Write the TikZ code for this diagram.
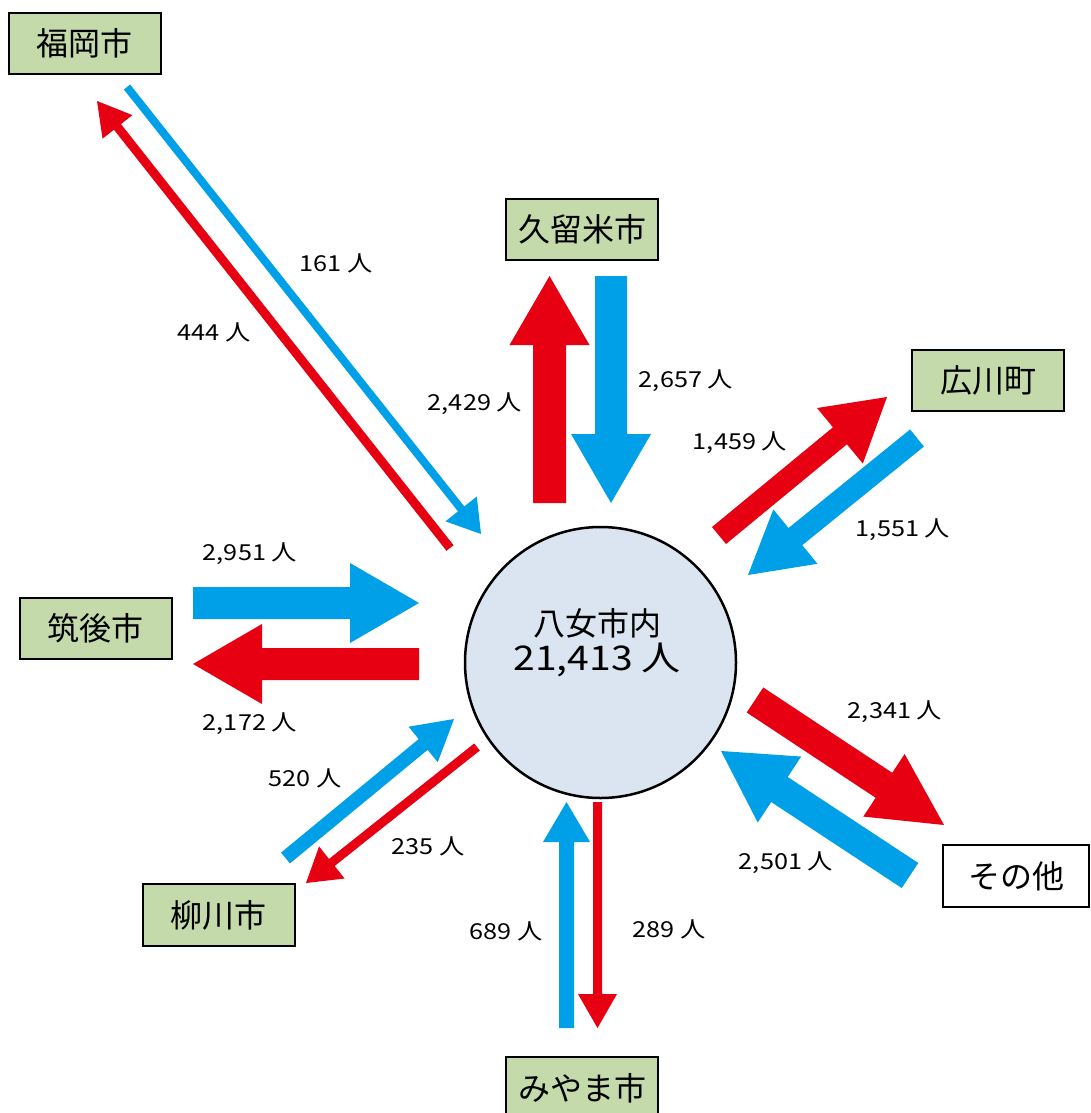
\documentclass[tikz,border=0pt]{standalone}
\usepackage{fontspec}
\setmainfont{Noto Sans CJK JP}
\newfontfamily\numfont[FakeStretch=1.15]{Noto Sans CJK JP}
\usetikzlibrary{calc}

\definecolor{flowred}{RGB}{230,0,18}
\definecolor{flowblue}{RGB}{0,160,233}
\definecolor{citygreen}{RGB}{196,218,171}
\definecolor{centerblue}{RGB}{219,229,241}

\tikzset{
  city/.style={draw=black, line width=2pt, fill=citygreen,
    minimum width=152pt, minimum height=61pt, inner sep=0pt,
    font=\fontsize{32}{36}\selectfont},
  cityother/.style={city, fill=white},
  count/.style={inner sep=0pt, font=\numfont\fontsize{22}{26}\selectfont},
  hub/.style={circle, draw=black, line width=2.5pt, fill=centerblue,
    minimum size=271pt, inner sep=0pt},
  hublabel/.style={align=center, inner sep=0pt, font=\fontsize{32}{35}\selectfont},
}

% block arrow: colour, tail, tip, half shaft width, half head width, head length
\newcommand{\flowarrow}[6]{%
  \coordinate (#2-base) at ($(#3)!#6!(#2)$);
  \fill[#1] ($(#2)!#4!90:(#3)$) -- ($(#2-base)!#4!90:(#3)$)
    -- ($(#2-base)!#5!90:(#3)$) -- (#3)
    -- ($(#2-base)!#5!-90:(#3)$) -- ($(#2-base)!#4!-90:(#3)$)
    -- ($(#2)!#4!-90:(#3)$) -- cycle;
}

\begin{document}
\begin{tikzpicture}[x=1pt, y=-1pt]
\useasboundingbox (0,0) rectangle (1091,1113);

% municipalities
\node[city] (fukuoka) at (84.5,43.5) {福岡市};
\node[city] (kurume) at (582,229) {久留米市};
\node[city] (hirokawa) at (988,380.5) {広川町};
\node[cityother, minimum width=146pt, minimum height=62pt] (other) at (1016,876) {その他};
\node[city, minimum height=62pt] (yanagawa) at (218.5,915) {柳川市};
\node[city, minimum height=62pt] (miyama) at (582,1088) {みやま市};
\node[city] (chikugo) at (95.5,628.5) {筑後市};

% Yame city itself
\node[hub] (yame) at (600.5,662.5) {};
\node[hublabel] (yameLabel) at (597,643)
  {八女市内\\{\numfont\fontsize{34}{35}\selectfont 21,413 人}};

% arrow end points
\coordinate (fukuokaOutTail) at (450,548);   \coordinate (fukuokaOutTip) at (97,101);
\coordinate (fukuokaInTail) at (127,87);     \coordinate (fukuokaInTip) at (481,534);
\coordinate (kurumeOutTail) at (549.5,503);  \coordinate (kurumeOutTip) at (549.5,276);
\coordinate (kurumeInTail) at (611,276);     \coordinate (kurumeInTip) at (611,503);
\coordinate (hirokawaOutTail) at (719,535.5);\coordinate (hirokawaOutTip) at (887,397);
\coordinate (hirokawaInTail) at (917,438);   \coordinate (hirokawaInTip) at (748,575);
\coordinate (otherOutTail) at (755,700);     \coordinate (otherOutTip) at (944,825);
\coordinate (otherInTail) at (910,875.5);    \coordinate (otherInTip) at (721,751);
\coordinate (chikugoInTail) at (193,603);    \coordinate (chikugoInTip) at (419,603);
\coordinate (chikugoOutTail) at (419,664);   \coordinate (chikugoOutTip) at (193,664);
\coordinate (yanagawaInTail) at (285.5,858); \coordinate (yanagawaInTip) at (454,719);
\coordinate (yanagawaOutTail) at (477,747);  \coordinate (yanagawaOutTip) at (306,883);
\coordinate (miyamaInTail) at (566.5,1028);  \coordinate (miyamaInTip) at (566.5,802);
\coordinate (miyamaOutTail) at (597.5,802);  \coordinate (miyamaOutTip) at (597.5,1028);

% outbound (red) and inbound (blue) flows
\flowarrow{flowred}{fukuokaOutTail}{fukuokaOutTip}{4.5pt}{19pt}{33pt}
\flowarrow{flowblue}{fukuokaInTail}{fukuokaInTip}{4pt}{20pt}{32pt}
\flowarrow{flowred}{kurumeOutTail}{kurumeOutTip}{16.5pt}{40pt}{69pt}
\flowarrow{flowblue}{kurumeInTail}{kurumeInTip}{16pt}{40pt}{69pt}
\flowarrow{flowred}{hirokawaOutTail}{hirokawaOutTip}{11pt}{36pt}{61pt}
\flowarrow{flowblue}{hirokawaInTail}{hirokawaInTip}{11pt}{35pt}{61pt}
\flowarrow{flowred}{otherOutTail}{otherOutTip}{15pt}{37.5pt}{72pt}
\flowarrow{flowblue}{otherInTail}{otherInTip}{15pt}{39.5pt}{70pt}
\flowarrow{flowblue}{chikugoInTail}{chikugoInTip}{16pt}{40pt}{69pt}
\flowarrow{flowred}{chikugoOutTail}{chikugoOutTip}{16pt}{40pt}{69pt}
\flowarrow{flowblue}{yanagawaInTail}{yanagawaInTip}{7pt}{23pt}{40pt}
\flowarrow{flowred}{yanagawaOutTail}{yanagawaOutTip}{4.5pt}{20.5pt}{33pt}
\flowarrow{flowblue}{miyamaInTail}{miyamaInTip}{7.5pt}{23.5pt}{40pt}
\flowarrow{flowred}{miyamaOutTail}{miyamaOutTip}{4.5pt}{19.5pt}{34pt}

% head counts
\node[count] (fukuokaInLabel) at (336,263) {161 人};
\node[count] (fukuokaOutLabel) at (214,332) {444 人};
\node[count] (kurumeOutLabel) at (475,404) {2,429 人};
\node[count] (kurumeInLabel) at (686,381) {2,657 人};
\node[count] (hirokawaOutLabel) at (740,443) {1,459 人};
\node[count] (hirokawaInLabel) at (903,530) {1,551 人};
\node[count] (chikugoInLabel) at (250,554) {2,951 人};
\node[count] (chikugoOutLabel) at (250,724) {2,172 人};
\node[count] (otherOutLabel) at (895,712) {2,341 人};
\node[count] (otherInLabel) at (786,863) {2,501 人};
\node[count] (yanagawaInLabel) at (305,778) {520 人};
\node[count] (yanagawaOutLabel) at (428,846) {235 人};
\node[count] (miyamaInLabel) at (506,931) {689 人};
\node[count] (miyamaOutLabel) at (669,929) {289 人};
\end{tikzpicture}
\end{document}
